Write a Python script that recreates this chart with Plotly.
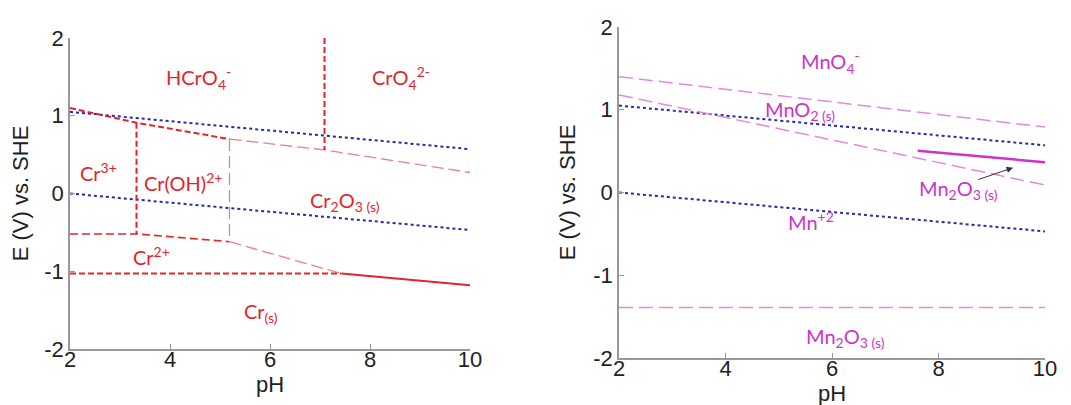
import plotly.graph_objects as go

# ---------------- data ----------------
ph_span = [2, 10]
water_upper = [1.05, 0.57]
water_lower = [0.0, -0.47]

# Chromium diagram
cr_top_heavy_ph = [2, 3.33, 5.19]
cr_top_heavy_E = [1.10, 0.91, 0.70]
cr_top_light_ph = [5.19, 7.09, 10]
cr_top_light_E = [0.70, 0.56, 0.27]
cr_vert_chromate_ph = [7.09, 7.09]
cr_vert_chromate_E = [2.0, 0.56]
cr_vert_crOH_ph = [3.33, 3.33]
cr_vert_crOH_E = [0.91, -0.52]
cr_vert_ox_ph = [5.19, 5.19]
cr_vert_ox_E = [0.70, -0.62]
cr_cr2_ph = [2, 3.33, 5.19]
cr_cr2_E = [-0.52, -0.52, -0.62]
cr_cr2_light_ph = [5.19, 7.43]
cr_cr2_light_E = [-0.62, -1.03]
cr_metal_ph = [2, 7.43]
cr_metal_E = [-1.03, -1.03]
cr_solid_ph = [7.43, 10]
cr_solid_E = [-1.03, -1.18]

cr_label_text = ["HCrO<sub>4</sub><sup>-</sup>", "CrO<sub>4</sub><sup>2-</sup>", "Cr<sup>3+</sup>",
                 "Cr(OH)<sup>2+</sup>", "Cr<sub>2</sub>O<sub>3 (s)</sub>", "Cr<sup>2+</sup>",
                 "Cr<sub>(s)</sub>"]
cr_label_ph = [4.56, 8.62, 2.56, 4.26, 7.5, 3.62, 5.82]
cr_label_E = [1.48, 1.48, 0.28, 0.15, -0.10, -0.80, -1.53]

# Manganese diagram
mn_top_E = [1.40, 0.79]
mn_mid_E = [1.18, 0.09]
mn_low_E = [-1.39, -1.39]
mn_solid_ph = [7.61, 10]
mn_solid_E = [0.505, 0.365]

mn_label_text = ["MnO<sub>4</sub><sup>-</sup>", "MnO<sub>2 (s)</sub>", "Mn<sub>2</sub>O<sub>3 (s)</sub>",
                 "Mn<sup>+2</sup>", "Mn<sub>2</sub>O<sub>3 (s)</sub>"]
mn_label_ph = [5.98, 5.40, 8.37, 5.60, 6.25]
mn_label_E = [1.58, 0.985, 0.04, -0.34, -1.75]
mn_arrow_tail = (8.72, 0.15)
mn_arrow_head = (9.40, 0.30)

x_ticks = [2, 4, 6, 8, 10]
x_tick_text = ["2", "4", "6", "8", "10"]
y_ticks = [-2, -1, 0, 1, 2]
y_tick_text = ["-2", "-1", "0", "1", "2"]

# ---------------- styles ----------------
RED = "#e3242b"
RED_LIGHT = "#ee8080"
MAG = "#cc33cc"
MAG_LIGHT = "#e28ae2"
BLUE = "#2a2aa0"

fig = go.Figure()

def add(x, y, color, width, dash, xa, ya):
    fig.add_trace(go.Scatter(x=x, y=y, mode="lines", xaxis=xa, yaxis=ya,
                             line=dict(color=color, width=width, dash=dash),
                             showlegend=False, hoverinfo="skip"))

# left (Cr)
add(ph_span, water_upper, BLUE, 2, "dot", "x", "y")
add(ph_span, water_lower, BLUE, 2, "dot", "x", "y")
add(cr_top_heavy_ph, cr_top_heavy_E, RED, 2, "6px,3px", "x", "y")
add(cr_top_light_ph, cr_top_light_E, RED_LIGHT, 1.3, "12px,5px", "x", "y")
add(cr_vert_chromate_ph, cr_vert_chromate_E, RED, 2, "6px,3px", "x", "y")
add(cr_vert_crOH_ph, cr_vert_crOH_E, RED, 2, "6px,3px", "x", "y")
add(cr_vert_ox_ph, cr_vert_ox_E, RED_LIGHT, 1.3, "12px,5px", "x", "y")
add(cr_cr2_ph, cr_cr2_E, RED, 1.6, "8px,4px", "x", "y")
add(cr_cr2_light_ph, cr_cr2_light_E, RED_LIGHT, 1.3, "12px,5px", "x", "y")
add(cr_metal_ph, cr_metal_E, RED, 2, "6px,3px", "x", "y")
add(cr_solid_ph, cr_solid_E, RED, 2, "solid", "x", "y")

# right (Mn)
add(ph_span, water_upper, BLUE, 2, "dot", "x2", "y2")
add(ph_span, water_lower, BLUE, 2, "dot", "x2", "y2")
add(ph_span, mn_top_E, MAG_LIGHT, 1.5, "14px,6px", "x2", "y2")
add(ph_span, mn_mid_E, MAG_LIGHT, 1.5, "14px,6px", "x2", "y2")
add(ph_span, mn_low_E, MAG_LIGHT, 1.5, "14px,6px", "x2", "y2")
add(mn_solid_ph, mn_solid_E, MAG, 2.5, "solid", "x2", "y2")

LAB_FONT = "Lato, 'Open Sans', sans-serif"
for t, x, y in zip(cr_label_text, cr_label_ph, cr_label_E):
    fig.add_annotation(x=x, y=y, xref="x", yref="y", text=t, showarrow=False,
                       font=dict(family=LAB_FONT, size=20, color=RED))
for t, x, y in zip(mn_label_text, mn_label_ph, mn_label_E):
    fig.add_annotation(x=x, y=y, xref="x2", yref="y2", text=t, showarrow=False,
                       font=dict(family=LAB_FONT, size=20, color=MAG))
fig.add_annotation(x=mn_arrow_head[0], y=mn_arrow_head[1], xref="x2", yref="y2",
                   ax=mn_arrow_tail[0], ay=mn_arrow_tail[1], axref="x2", ayref="y2",
                   text="", showarrow=True, arrowhead=2, arrowsize=1.3, arrowwidth=1,
                   arrowcolor="#333333")

TICK_FONT = dict(family="Liberation Sans, Arial, sans-serif", size=22, color="#222222")
TITLE_FONT = dict(family="Liberation Sans, Arial, sans-serif", size=22, color="#222222")
ax_common = dict(showgrid=False, zeroline=False, showline=True, linecolor="#999999",
                 linewidth=1.5, ticks="inside", ticklen=5, tickcolor="#999999",
                 tickfont=TICK_FONT, mirror=False, automargin=False)

fig.update_layout(
    width=1071, height=405,
    margin=dict(l=0, r=0, t=0, b=0, pad=0, autoexpand=False),
    paper_bgcolor="white", plot_bgcolor="white",
    xaxis=dict(domain=[62/1071, 462/1071], range=[2, 10], tickvals=x_ticks, ticktext=x_tick_text,
               ticklabelstandoff=-10,
               title=dict(text="pH", font=TITLE_FONT, standoff=0), anchor="y", **ax_common),
    yaxis=dict(domain=[64/405, 375/405], range=[-2, 2], tickvals=y_ticks, ticktext=y_tick_text,
               title=dict(text="E (V) vs. SHE", font=TITLE_FONT, standoff=10), anchor="x", **ax_common),
    xaxis2=dict(domain=[611/1071, 1037/1071], range=[2, 10], tickvals=x_ticks, ticktext=x_tick_text,
                ticklabelstandoff=-10,
                title=dict(text="pH", font=TITLE_FONT, standoff=0), anchor="y2", **ax_common),
    yaxis2=dict(domain=[55/405, 386/405], range=[-2, 2], tickvals=y_ticks, ticktext=y_tick_text,
                title=dict(text="E (V) vs. SHE", font=TITLE_FONT, standoff=12), anchor="x2", **ax_common),
)

fig.write_html("out.html")
